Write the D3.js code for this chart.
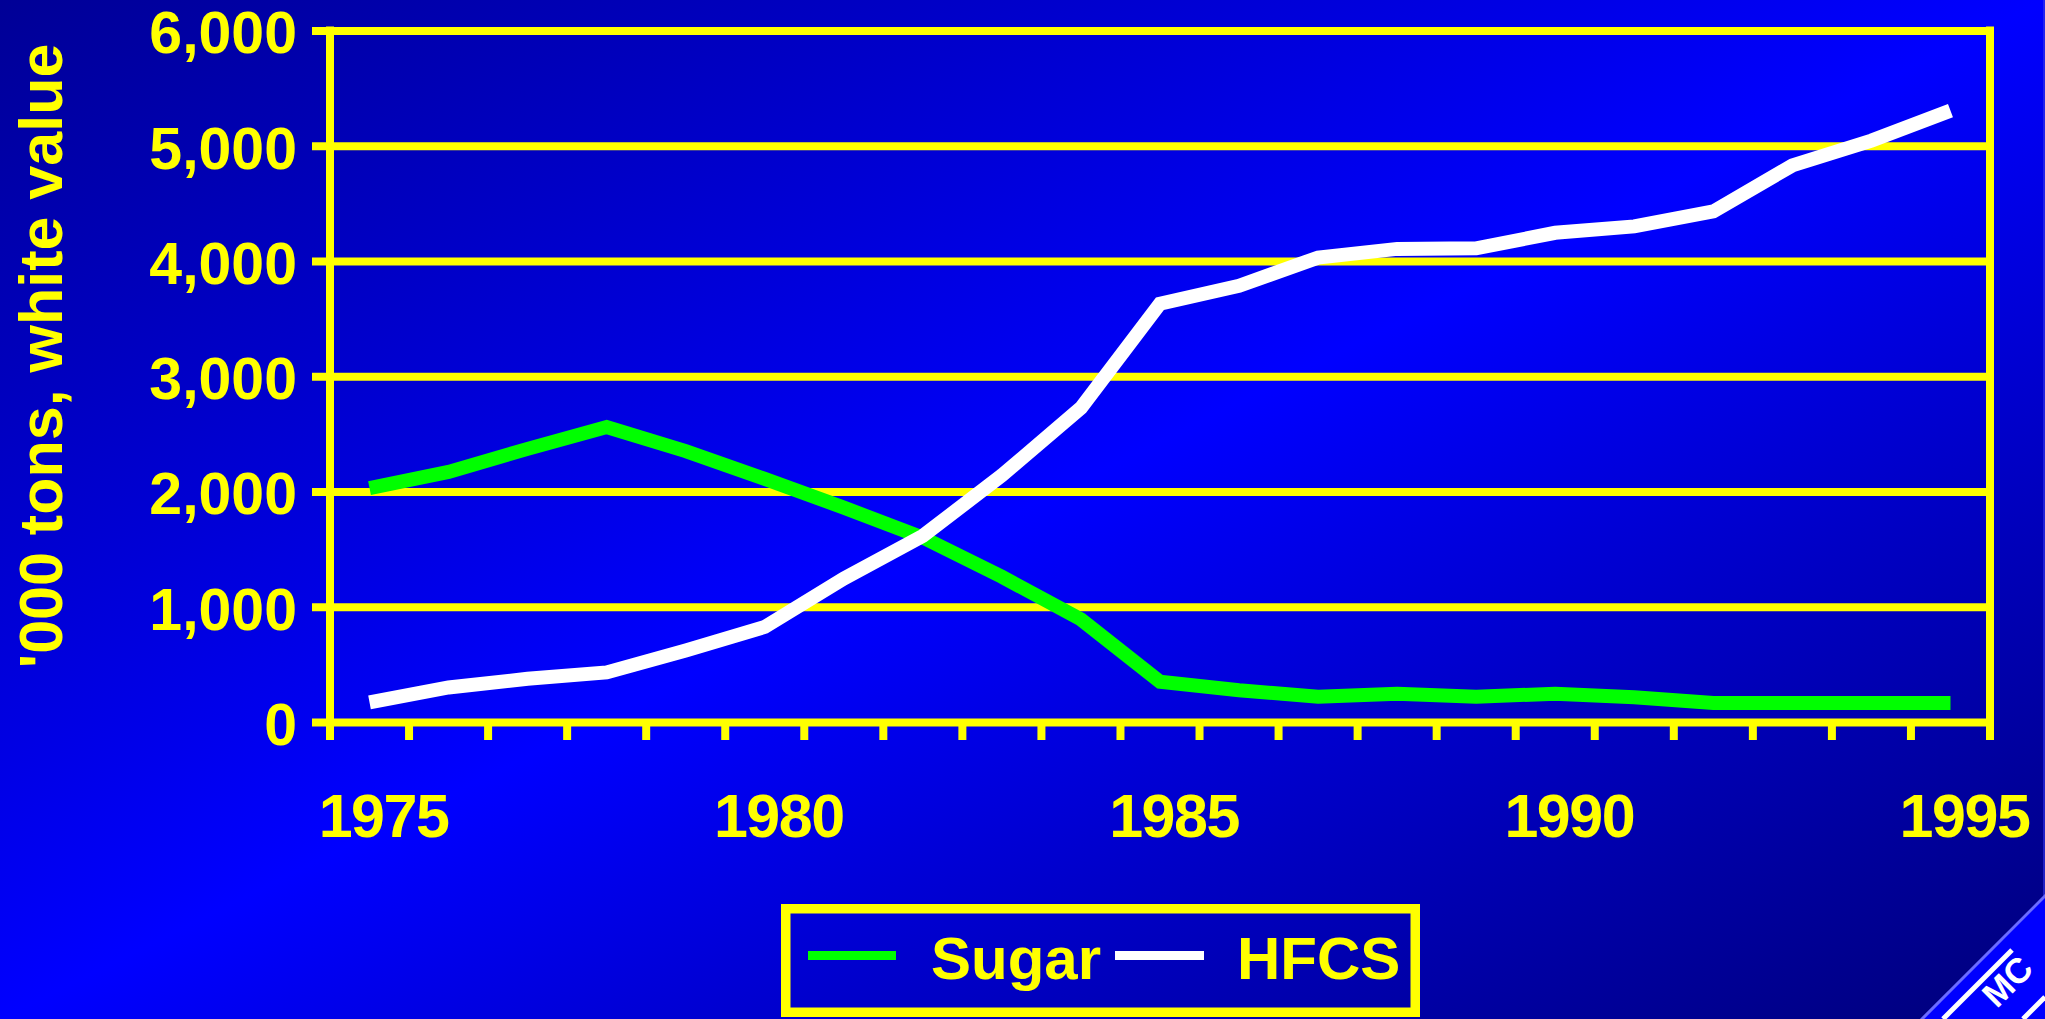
<!DOCTYPE html>
<html>
<head>
<meta charset="utf-8">
<script src="https://cdn.jsdelivr.net/npm/d3@7"></script>
<style>
  html, body { margin: 0; padding: 0; background: #0000c0; overflow: hidden; }
  svg { display: block; }
  text { font-family: "Liberation Sans", Arial, Helvetica, sans-serif; font-weight: bold; }
</style>
</head>
<body>
<div id="chart"></div>
<script>
const years = [1975,1976,1977,1978,1979,1980,1981,1982,1983,1984,1985,1986,1987,1988,1989,1990,1991,1992,1993,1994,1995];
const sugar = [2030,2170,2370,2560,2350,2110,1860,1600,1260,890,350,275,220,245,220,245,215,165,165,165,165];
const hfcs  = [170,300,375,430,620,825,1245,1615,2140,2725,3630,3785,4030,4105,4110,4245,4300,4430,4830,5045,5305];
const yTicks = [0,1000,2000,3000,4000,5000,6000];
const xTickLabels = [1975,1980,1985,1990,1995];
const seriesNames = ["Sugar","HFCS"];
const seriesColors = ["#00ff00","#ffffff"];
const yTitle = "'000 tons, white value";

(function () {
const W = 2045, H = 1019;
const pLeft = 330, pRight = 1990, pTop = 30.5, pBottom = 722;
const YELLOW = "#ffff00";
const SW = 8;

const svg = d3.select("#chart").append("svg").attr("width", W).attr("height", H);
const defs = svg.append("defs");
const grad = defs.append("linearGradient").attr("id","bg")
  .attr("x1","0").attr("y1","0").attr("x2","1").attr("y2","1");
grad.append("stop").attr("offset","0").attr("stop-color","#000096");
grad.append("stop").attr("offset","0.5").attr("stop-color","#0000ff");
grad.append("stop").attr("offset","1").attr("stop-color","#00007a");
svg.append("rect").attr("width",W).attr("height",H).attr("fill","url(#bg)");

const x = d3.scaleBand().domain(years).range([pLeft, pRight]).paddingInner(0).paddingOuter(0);
const bw = x.bandwidth();
const cx = d => x(d) + bw/2;
const y = d3.scaleLinear().domain([0,6000]).range([pBottom, pTop]);

// Y axis with gridlines
const yAxis = svg.append("g").attr("transform", `translate(${pLeft},0)`)
  .call(d3.axisLeft(y).tickValues(yTicks).tickSize(18).tickPadding(15).tickFormat(d3.format(",")));
yAxis.select(".domain").remove();
yAxis.selectAll(".tick line").attr("x1", -18).attr("x2", pRight-pLeft)
  .attr("stroke", YELLOW).attr("stroke-width", SW);
yAxis.selectAll(".tick text").attr("fill", YELLOW).attr("font-size", 59).attr("dy","0.38em")
  .attr("font-family", "'Liberation Sans', Arial, sans-serif").attr("font-weight","bold");

// left axis line and right frame line
svg.append("line").attr("x1",pLeft).attr("x2",pLeft).attr("y1",pTop-SW/2).attr("y2",pBottom+18)
  .attr("stroke",YELLOW).attr("stroke-width",SW);
svg.append("line").attr("x1",pRight).attr("x2",pRight).attr("y1",pTop-SW/2).attr("y2",pBottom+18)
  .attr("stroke",YELLOW).attr("stroke-width",SW);

// X axis tick marks at category boundaries
const bounds = years.map(d => x(d)).concat([pRight]);
svg.append("g").selectAll("line").data(bounds).join("line")
  .attr("x1", d=>d).attr("x2", d=>d).attr("y1", pBottom).attr("y2", pBottom+18)
  .attr("stroke", YELLOW).attr("stroke-width", SW);

// X labels
svg.append("g").selectAll("text").data(xTickLabels).join("text")
  .attr("x", d => cx(d) + 14).attr("y", 837)
  .attr("text-anchor","middle").attr("fill",YELLOW).attr("font-size",61)
  .attr("letter-spacing", -1.5)
  .text(d => d);

// Y title
svg.append("text").attr("transform","translate(62,356) rotate(-90)")
  .attr("text-anchor","middle").attr("fill",YELLOW).attr("font-size",61)
  .text(yTitle);

// Lines
const line = d3.line().x((d,i) => cx(years[i])).y(d => y(d));
[sugar, hfcs].forEach((s, i) => {
  svg.append("path").datum(s).attr("d", line)
    .attr("fill","none").attr("stroke", seriesColors[i]).attr("stroke-width",14)
    .attr("stroke-linejoin","miter").attr("stroke-linecap","butt");
});

// Legend
const lg = svg.append("g");
lg.append("rect").attr("x",785.75).attr("y",908.75).attr("width",629.5).attr("height",103.5)
  .attr("fill","none").attr("stroke",YELLOW).attr("stroke-width",9.5);
const legItems = [
  {name: seriesNames[0], color: seriesColors[0], lx1: 808, lx2: 896, tx: 931},
  {name: seriesNames[1], color: seriesColors[1], lx1: 1115, lx2: 1204, tx: 1237}
];
legItems.forEach(it => {
  lg.append("line").attr("x1",it.lx1).attr("x2",it.lx2).attr("y1",955.5).attr("y2",955.5)
    .attr("stroke",it.color).attr("stroke-width",9);
  lg.append("text").attr("x",it.tx).attr("y",979).attr("fill",YELLOW).attr("font-size",60).text(it.name);
});

// Corner logo
const logo = svg.append("g");
logo.append("line").attr("x1",2044).attr("x2",2044).attr("y1",0).attr("y2",897)
  .attr("stroke","#3a3ae8").attr("stroke-width",2).attr("opacity",0.6);
logo.append("polygon").attr("points","2045,897 2045,1019 1922,1019").attr("fill","#0000ff");
logo.append("line").attr("x1",1921).attr("y1",1020).attr("x2",2046).attr("y2",895)
  .attr("stroke","#6b6bff").attr("stroke-width",3);
logo.append("line").attr("x1",1943).attr("y1",1019).attr("x2",2012).attr("y2",950)
  .attr("stroke","#ffffff").attr("stroke-width",5);
logo.append("line").attr("x1",2023).attr("y1",1019).attr("x2",2045).attr("y2",997)
  .attr("stroke","#ffffff").attr("stroke-width",5);
logo.append("text").attr("transform","translate(2007,981) rotate(-45)")
  .attr("text-anchor","middle").attr("dy","0.36em").attr("fill","#ffffff").attr("font-size",35)
  .text("MC");
})();
</script>
</body>
</html>
